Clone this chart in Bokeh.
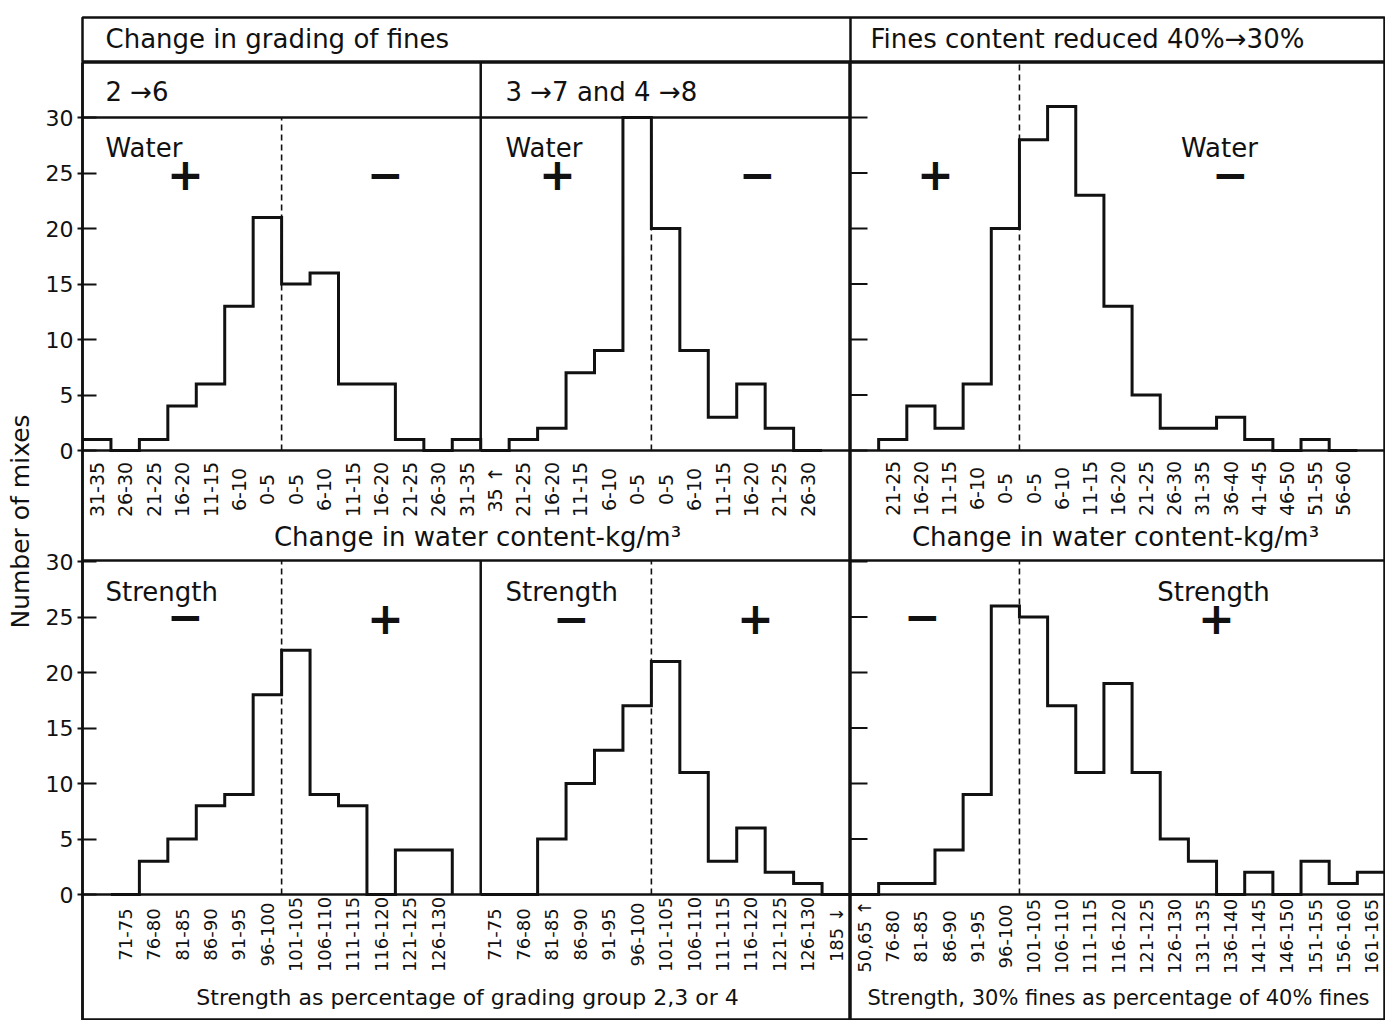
import numpy as np
from bokeh.plotting import figure
from bokeh.models import Range1d, Span, Label, FixedTicker
from bokeh.layouts import row, column
from bokeh.core.properties import value
from bokeh.embed import file_html
from bokeh.resources import INLINE

# ---------------- data ----------------
TL_LABELS = ["31-35", "26-30", "21-25", "16-20", "11-15", "6-10", "0-5",
             "0-5", "6-10", "11-15", "16-20", "21-25", "26-30", "31-35"]
TL_COUNTS = [1, 0, 1, 4, 6, 13, 21, 15, 16, 6, 6, 1, 0, 1]

TM_LABELS = ["35 ↑", "21-25", "16-20", "11-15", "6-10", "0-5",
             "0-5", "6-10", "11-15", "16-20", "21-25", "26-30"]
TM_COUNTS = [0, 1, 2, 7, 9, 33, 20, 9, 3, 6, 2, 0]   # 0-5 bar runs off scale

TR_LABELS = ["21-25", "16-20", "11-15", "6-10", "0-5", "0-5", "6-10", "11-15",
             "16-20", "21-25", "26-30", "31-35", "36-40", "41-45", "46-50",
             "51-55", "56-60"]
TR_COUNTS = [1, 4, 2, 6, 20, 28, 31, 23, 13, 5, 2, 2, 3, 1, 0, 1, 0]

BL_LABELS = ["71-75", "76-80", "81-85", "86-90", "91-95", "96-100", "101-105",
             "106-110", "111-115", "116-120", "121-125", "126-130"]
BL_COUNTS = [0, 3, 5, 8, 9, 18, 22, 9, 8, 0, 4, 4]

BM_LABELS = ["71-75", "76-80", "81-85", "86-90", "91-95", "96-100", "101-105",
             "106-110", "111-115", "116-120", "121-125", "126-130", "185 ↓"]
BM_COUNTS = [0, 0, 5, 10, 13, 17, 21, 11, 3, 6, 2, 1, 0]

BR_LABELS = ["50,65 ↑", "76-80", "81-85", "86-90", "91-95", "96-100", "101-105",
             "106-110", "111-115", "116-120", "121-125", "126-130", "131-135",
             "136-140", "141-145", "146-150", "151-155", "156-160", "161-165"]
BR_COUNTS = [0, 1, 1, 4, 9, 26, 25, 17, 11, 19, 11, 5, 3, 0, 2, 0, 3, 1, 2]

Y_TICKS = [0, 5, 10, 15, 20, 25, 30]

# ---------------- layout constants (page pixels) ----------------
FONT = "DejaVu Sans"
INK = "#111111"
PX_UNIT = 11.1            # pixels per mix
TOP_ZERO = 450            # page y of 0 in the upper panels
BOT_OFFSET = 40           # the lower panels sit 40 units lower
HDR_TOP = 17
FRAME_TOP, FRAME_BOT = 62, 1020
Y_END = (TOP_ZERO - FRAME_TOP) / PX_UNIT
Y_START = (TOP_ZERO - FRAME_BOT) / PX_UNIT
GUT_W = 40
LEFT, MID, RIGHT = 82, 850, 1385
GUT = LEFT - GUT_W
LM_SLOTS, R_SLOTS = 27, 19
SX_LM = (MID - LEFT) / LM_SLOTS
SX_R = (RIGHT - MID) / R_SLOTS
Y_CAP = 30


def lx(px):
    return (px - LEFT) / SX_LM


def rx(px):
    return (px - MID) / SX_R


def ly(py):
    return (TOP_ZERO - py) / PX_UNIT


SEP_Y = ly(560)           # line between upper and lower halves
BOT_TOP = SEP_Y + BOT_OFFSET


def base_fig(width, height, xr, yr, left=0, top=0, outline=True, yaxis=False):
    p = figure(width=width, height=height, x_range=Range1d(*xr), y_range=Range1d(*yr),
               output_backend="svg", toolbar_location=None,
               x_axis_type=None, y_axis_type=("linear" if yaxis else None),
               min_border=0, min_border_left=left, min_border_top=top,
               min_border_right=0, min_border_bottom=0,
               background_fill_color="white", border_fill_color="white",
               outline_line_color=(INK if outline else None), outline_line_width=2.5)
    p.grid.visible = False
    return p


def add_label(p, x, y, text, size, align="left", bold=False, angle=0.0, rng="default"):
    p.add_layout(Label(x=x, y=y, text=text, text_font=FONT, text_font_size=f"{size}px",
                       text_align=align, text_baseline="middle",
                       text_font_style=("bold" if bold else "normal"),
                       text_color=INK, angle=angle, y_range_name=rng))


def sign(p, x, y, s):
    add_label(p, x, y, s, 44, align="center", bold=True)


def outline(counts, start, cap=None):
    c = np.asarray(counts, dtype=float)
    if cap is not None:
        c = np.minimum(c, cap)
    edges = start + np.arange(len(c) + 1)
    xs = np.concatenate([[edges[0]], np.repeat(edges, 2)[1:-1], [edges[-1]]])
    ys = np.concatenate([[0.0], np.repeat(c, 2), [0.0]])
    return xs, ys


def hist(p, counts, start, rng="default", cap=None):
    xs, ys = outline(counts, start, cap)
    p.line(xs, ys, line_width=3, line_color=INK, line_join="miter", y_range_name=rng)


def tick_labels(p, labels, start, y, rng="default", size=18):
    xs = start + np.arange(len(labels)) + 0.5
    p.text(x=xs, y=[y] * len(labels), text=labels, angle=np.pi / 2,
           text_align="center", text_baseline="middle",
           text_font=value(FONT), text_font_size=value(f"{size}px"),
           text_color=INK, y_range_name=rng)


def vline(p, x, y0, y1, dashed=False, rng="default"):
    p.segment(x0=[x], y0=[y0], x1=[x], y1=[y1], line_color=INK,
              line_width=(1.6 if dashed else 2.5),
              line_dash=("6 4" if dashed else "solid"), y_range_name=rng)


def hspan(p, y):
    p.add_layout(Span(location=y, dimension="width", line_color=INK, line_width=2.5))


TOTAL_H = FRAME_BOT

# ---------------- gutter with the y axis title ----------------
gut = base_fig(GUT_W, TOTAL_H, (0, GUT_W), (0, TOTAL_H), outline=False)
gut.text(x=[20], y=[TOTAL_H - 521], text=["Number of mixes"], angle=np.pi / 2,
         text_align="center", text_baseline="middle", text_font=value(FONT),
         text_font_size=value("25px"), text_color=INK)

# ---------------- header row ----------------
hdr = base_fig(GUT + (RIGHT - LEFT), FRAME_TOP, (0, RIGHT - LEFT), (0, FRAME_TOP - HDR_TOP),
               left=GUT, top=HDR_TOP)
hdr.add_layout(Span(location=MID - LEFT, dimension="height", line_color=INK, line_width=2.5))
add_label(hdr, 105 - LEFT, FRAME_TOP - 38, "Change in grading of fines", 26)
add_label(hdr, 870 - LEFT, FRAME_TOP - 38, "Fines content reduced 40%→30%", 26)

# ---------------- left + middle column (grading groups) ----------------
pLM = base_fig(GUT + (MID - LEFT), FRAME_BOT - FRAME_TOP, (0, LM_SLOTS), (Y_START, Y_END),
               left=GUT, yaxis=True)
pLM.extra_y_ranges = {"bot": Range1d(Y_START + BOT_OFFSET, Y_END + BOT_OFFSET)}
ax = pLM.yaxis[0]
ax.ticker = FixedTicker(ticks=Y_TICKS + [t - BOT_OFFSET for t in Y_TICKS])
ax.major_label_overrides = {t - BOT_OFFSET: str(t) for t in Y_TICKS}
ax.major_label_text_font = FONT
ax.major_label_text_font_size = "22px"
ax.major_label_text_color = INK
ax.major_label_standoff = 4
ax.major_tick_in = 14
ax.major_tick_out = 5
ax.major_tick_line_width = 2
ax.major_tick_line_color = INK
ax.minor_tick_line_color = None
ax.axis_line_width = 2.5
ax.axis_line_color = INK

for y in (Y_CAP, 0, SEP_Y, -BOT_OFFSET):
    hspan(pLM, y)

TM_START = len(TL_COUNTS)
BL_START = 1
BM_START = len(TL_COUNTS)

# panel dividers
vline(pLM, TM_START, 0, Y_END)
vline(pLM, BM_START, 0, BOT_TOP, rng="bot")

# dashed "no change" lines
vline(pLM, TL_LABELS.index("0-5") + 1, 0, Y_CAP, dashed=True)
vline(pLM, TM_START + TM_LABELS.index("0-5") + 1, 0, Y_CAP, dashed=True)
vline(pLM, BL_START + BL_LABELS.index("96-100") + 1, 0, BOT_TOP, dashed=True, rng="bot")
vline(pLM, BM_START + BM_LABELS.index("96-100") + 1, 0, BOT_TOP, dashed=True, rng="bot")

hist(pLM, TL_COUNTS, 0)
hist(pLM, TM_COUNTS, TM_START, cap=Y_CAP)
hist(pLM, BL_COUNTS, BL_START, rng="bot")
hist(pLM, BM_COUNTS, BM_START, rng="bot")

tick_labels(pLM, TL_LABELS, 0, ly(489), size=19)
tick_labels(pLM, TM_LABELS, TM_START, ly(489), size=19)
tick_labels(pLM, BL_LABELS, BL_START, ly(934 - BOT_OFFSET * PX_UNIT), rng="bot")
tick_labels(pLM, BM_LABELS, BM_START, ly(934 - BOT_OFFSET * PX_UNIT), rng="bot")

add_label(pLM, lx(105), ly(91), "2 →6", 26)
add_label(pLM, lx(505), ly(91), "3 →7 and 4 →8", 26)
for x0 in (105, 505):
    add_label(pLM, lx(x0), ly(147), "Water", 26)
    add_label(pLM, lx(x0), ly(591), "Strength", 26)
sign(pLM, lx(185), ly(173), "+")
sign(pLM, lx(385), ly(173), "−")
sign(pLM, lx(557), ly(173), "+")
sign(pLM, lx(757), ly(173), "−")
sign(pLM, lx(185), ly(615), "−")
sign(pLM, lx(385), ly(617), "+")
sign(pLM, lx(571), ly(617), "−")
sign(pLM, lx(755), ly(617), "+")
add_label(pLM, lx(477), ly(536), "Change in water content-kg/m³", 26, align="center")
add_label(pLM, lx(467), ly(997), "Strength as percentage of grading group 2,3 or 4", 22,
          align="center")

# ---------------- right column (fines reduced) ----------------
pR = base_fig(RIGHT - MID, FRAME_BOT - FRAME_TOP, (0, R_SLOTS), (Y_START, Y_END))
pR.extra_y_ranges = {"bot": Range1d(Y_START + BOT_OFFSET, Y_END + BOT_OFFSET)}
for y in (0, SEP_Y, -BOT_OFFSET):
    hspan(pR, y)
tick_len = 17 / SX_R
for rng in ("default", "bot"):
    pR.segment(x0=[0] * len(Y_TICKS), y0=Y_TICKS, x1=[tick_len] * len(Y_TICKS), y1=Y_TICKS,
               line_color=INK, line_width=2, y_range_name=rng)

TR_START = 1
BR_START = 0
vline(pR, TR_START + TR_LABELS.index("0-5") + 1, 0, Y_END, dashed=True)
vline(pR, BR_START + BR_LABELS.index("96-100") + 1, 0, BOT_TOP, dashed=True, rng="bot")

hist(pR, TR_COUNTS, TR_START)
hist(pR, BR_COUNTS, BR_START, rng="bot")
tick_labels(pR, TR_LABELS, TR_START, ly(488), size=19)
tick_labels(pR, BR_LABELS, BR_START, ly(936 - BOT_OFFSET * PX_UNIT), rng="bot")

sign(pR, rx(935), ly(173), "+")
add_label(pR, rx(1219), ly(147), "Water", 26, align="center")
sign(pR, rx(1230), ly(173), "−")
sign(pR, rx(922), ly(615), "−")
add_label(pR, rx(1213), ly(591), "Strength", 26, align="center")
sign(pR, rx(1216), ly(617), "+")
add_label(pR, rx(1115), ly(536), "Change in water content-kg/m³", 26, align="center")
add_label(pR, rx(1118), ly(997), "Strength, 30% fines as percentage of 40% fines", 21,
          align="center")

layout = row(gut, column(hdr, row(pLM, pR, spacing=0), spacing=0), spacing=0)

with open("out.html", "w") as f:
    f.write(file_html(layout, INLINE))
